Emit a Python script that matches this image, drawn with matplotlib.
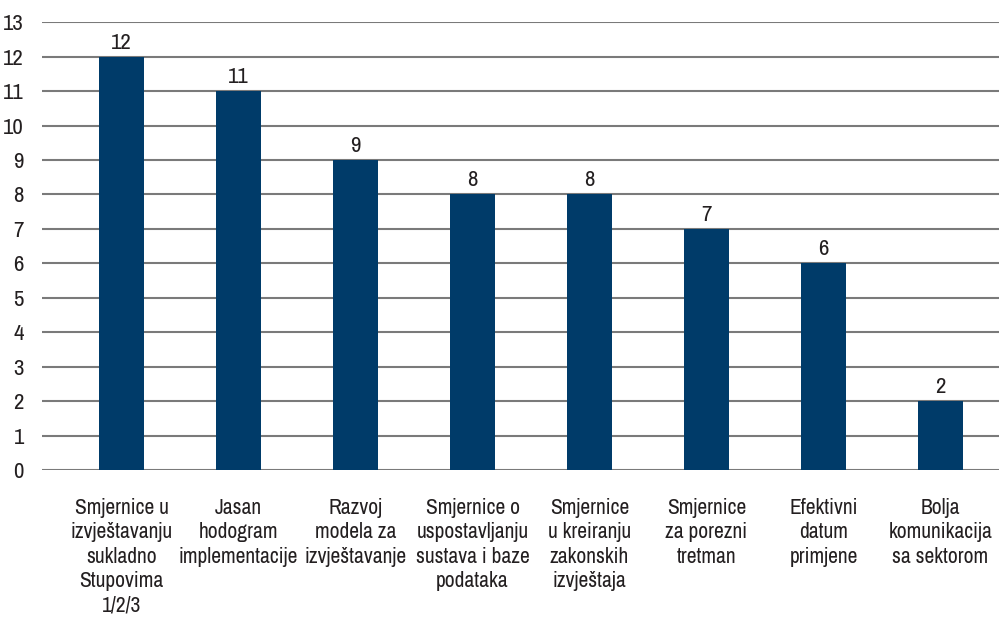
import matplotlib
matplotlib.use("Agg")
import matplotlib.pyplot as plt
from matplotlib import font_manager as fm

# Look for a condensed face (the reference uses a condensed sans)
cond = None
for f in fm.fontManager.ttflist:
    nm = f.name
    if ("Condensed" in nm or "Narrow" in nm) and f.weight in (400, "normal", "regular"):
        cond = (nm, None)
        break
if cond is None:
    for f in fm.fontManager.ttflist:
        if str(f.stretch) in ("condensed", "semi-condensed", "extra-condensed") and f.weight in (400, "normal", "regular") and f.style == "normal":
            cond = (f.name, f.stretch)
            break

if cond is not None:
    plt.rcParams['font.family'] = [cond[0], "DejaVu Sans"]
    if cond[1] is not None:
        plt.rcParams['font.stretch'] = cond[1]
    cat_size = 15.5
else:
    plt.rcParams['font.family'] = ["Liberation Sans", "DejaVu Sans"]
    cat_size = 12.5

categories = [
    "Smjernice u\nizvještavanju\nsukladno\nStupovima\n1/2/3",
    "Jasan\nhodogram\nimplementacije",
    "Razvoj\nmodela za\nizvještavanje",
    "Smjernice o\nuspostavljanju\nsustava i baze\npodataka",
    "Smjernice\nu kreiranju\nzakonskih\nizvještaja",
    "Smjernice\nza porezni\ntretman",
    "Efektivni\ndatum\nprimjene",
    "Bolja\nkomunikacija\nsa sektorom",
]
values = [12, 11, 9, 8, 8, 7, 6, 2]
yticks = list(range(0, 14))

bar_color = "#003b69"
text_color = "#231f20"
grid_color = "#7a7a7a"

fig = plt.figure(figsize=(9.99, 6.17), dpi=100)
ax = fig.add_axes([0.042, 0.238, 0.958, 0.726])
x = list(range(len(values)))
ax.bar(x, values, width=0.385, color=bar_color, zorder=3)
for xi, v in zip(x, values):
    ax.annotate(str(v), (xi, v), xytext=(0, 3), textcoords="offset points",
                ha="center", va="bottom", fontsize=16.5, color=text_color)
ax.set_ylim(0, 13)
ax.set_xlim(-0.68, 7.5)
ax.set_yticks(yticks)
ax.yaxis.grid(True, color=grid_color, linewidth=1.5, zorder=0)
ax.tick_params(axis='y', length=0, labelsize=16.5, labelcolor=text_color, pad=13)
ax.tick_params(axis='x', length=0)
ax.set_xticks(x)
ax.set_xticklabels(categories, fontsize=cat_size, color=text_color, linespacing=1.27)
ax.tick_params(axis='x', pad=20)
for s in ax.spines.values():
    s.set_visible(False)
fig.savefig("out.png", dpi=100)
